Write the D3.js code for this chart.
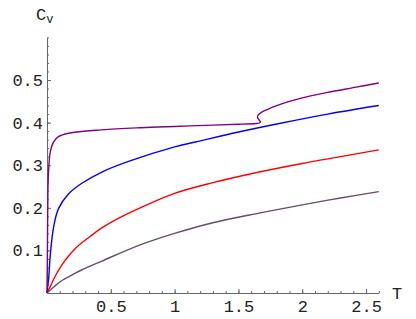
<!DOCTYPE html>
<html>
<head>
<meta charset="utf-8">
<script src="https://cdn.jsdelivr.net/npm/d3@7"></script>
<style>
  html, body { margin: 0; padding: 0; background: #fff; }
  svg { display: block; }
</style>
</head>
<body>
<div id="chart"></div>
<script>
const xTicks = [0.5, 1, 1.5, 2, 2.5];
const xTickLabels = ['0.5', '1', '1.5', '2', '2.5'];
const yTicks = [0.1, 0.2, 0.3, 0.4, 0.5];
const yTickLabels = ['0.1', '0.2', '0.3', '0.4', '0.5'];

// purple curve, with the small back-bend near T = 1.66
const purpleT = [0, 0.003, 0.005, 0.008, 0.013, 0.026, 0.052, 0.09, 0.17, 0.43, 0.73, 1.0, 1.3, 1.5, 1.64, 1.665, 1.672, 1.66, 1.65, 1.655, 1.68, 1.72, 1.8, 2.0, 2.2, 2.4, 2.6];
const purpleV = [0, 0.09, 0.17, 0.25, 0.29, 0.332, 0.355, 0.367, 0.375, 0.383, 0.388, 0.391, 0.394, 0.396, 0.398, 0.399, 0.402, 0.407, 0.412, 0.418, 0.424, 0.43, 0.44, 0.458, 0.471, 0.482, 0.493];

const blueT = [0, 0.005, 0.013, 0.026, 0.052, 0.09, 0.17, 0.27, 0.43, 0.65, 1.0, 1.17, 1.5, 1.82, 2.2, 2.6];
const blueV = [0, 0.014, 0.034, 0.09, 0.155, 0.198, 0.233, 0.257, 0.284, 0.31, 0.343, 0.355, 0.378, 0.398, 0.42, 0.44];

const redT = [0, 0.03, 0.06, 0.117, 0.22, 0.33, 0.43, 0.57, 0.73, 1.0, 1.3, 1.6, 2.0, 2.3, 2.6];
const redV = [0, 0.018, 0.037, 0.066, 0.104, 0.131, 0.153, 0.177, 0.2, 0.234, 0.259, 0.28, 0.304, 0.32, 0.336];

const greyT = [0, 0.06, 0.12, 0.2, 0.27, 0.43, 0.73, 1.0, 1.3, 1.67, 2.0, 2.3, 2.6];
const greyV = [0, 0.016, 0.03, 0.043, 0.054, 0.075, 0.113, 0.14, 0.165, 0.188, 0.207, 0.223, 0.238];

const series = [
  { t: greyT, v: greyV, color: '#6a4a6c' },
  { t: redT, v: redV, color: '#ff0000' },
  { t: blueT, v: blueV, color: '#0000ff' },
  { t: purpleT, v: purpleV, color: '#820082' }
];

const width = 416;
const height = 319;
const font = '"Liberation Mono", "Courier New", monospace';

const svg = d3.select('#chart')
  .append('svg')
  .attr('width', width)
  .attr('height', height)
  .attr('viewBox', `0 0 ${width} ${height}`);

const x = d3.scaleLinear().domain([0, 2.6]).range([47, 378.8]);
const y = d3.scaleLinear().domain([0, 0.6]).range([293, 37.4]);

// minor ticks
svg.append('g')
  .attr('transform', `translate(0, ${y(0)})`)
  .call(d3.axisBottom(x).tickValues(d3.range(1, 27).map((i) => i / 10)).tickSizeInner(-2).tickSizeOuter(0).tickFormat(''))
  .call((g) => g.select('.domain').remove())
  .selectAll('line').attr('stroke', '#666');

svg.append('g')
  .attr('transform', `translate(${x(0)}, 0)`)
  .call(d3.axisLeft(y).tickValues(d3.range(1, 31).map((i) => i / 50)).tickSizeInner(-2).tickSizeOuter(0).tickFormat(''))
  .call((g) => g.select('.domain').remove())
  .selectAll('line').attr('stroke', '#666');

// major ticks + labels
const xAxis = svg.append('g')
  .attr('transform', `translate(0, ${y(0)})`)
  .call(d3.axisBottom(x).tickValues(xTicks).tickSizeInner(-4).tickSizeOuter(0).tickPadding(7)
    .tickFormat((d, i) => xTickLabels[i]));
xAxis.select('.domain').attr('stroke', '#666');
xAxis.selectAll('line').attr('stroke', '#666');
xAxis.selectAll('text').attr('font-family', font).attr('font-size', 17).attr('fill', '#222');

const yAxis = svg.append('g')
  .attr('transform', `translate(${x(0)}, 0)`)
  .call(d3.axisLeft(y).tickValues(yTicks).tickSizeInner(-4).tickSizeOuter(0).tickPadding(4)
    .tickFormat((d, i) => yTickLabels[i]));
yAxis.select('.domain').attr('stroke', '#666');
yAxis.selectAll('line').attr('stroke', '#666');
yAxis.selectAll('text').attr('font-family', font).attr('font-size', 17).attr('fill', '#222');

// curves
const line = d3.line()
  .x((d) => x(d[0]))
  .y((d) => y(d[1]))
  .curve(d3.curveCatmullRom.alpha(0.5));

svg.append('g')
  .selectAll('path')
  .data(series)
  .join('path')
  .attr('d', (s) => line(s.t.map((t, i) => [t, s.v[i]])))
  .attr('fill', 'none')
  .attr('stroke', (s) => s.color)
  .attr('stroke-width', 1.4);

// axis titles
svg.append('text')
  .attr('x', 392)
  .attr('y', 299)
  .attr('font-family', font)
  .attr('font-size', 17)
  .attr('fill', '#222')
  .text('T');

const cv = svg.append('text')
  .attr('x', 36)
  .attr('y', 20)
  .attr('font-family', font)
  .attr('font-size', 17)
  .attr('fill', '#222');
cv.append('tspan').text('C');
cv.append('tspan').attr('font-size', 12).attr('dy', 3).text('v');
</script>
</body>
</html>
